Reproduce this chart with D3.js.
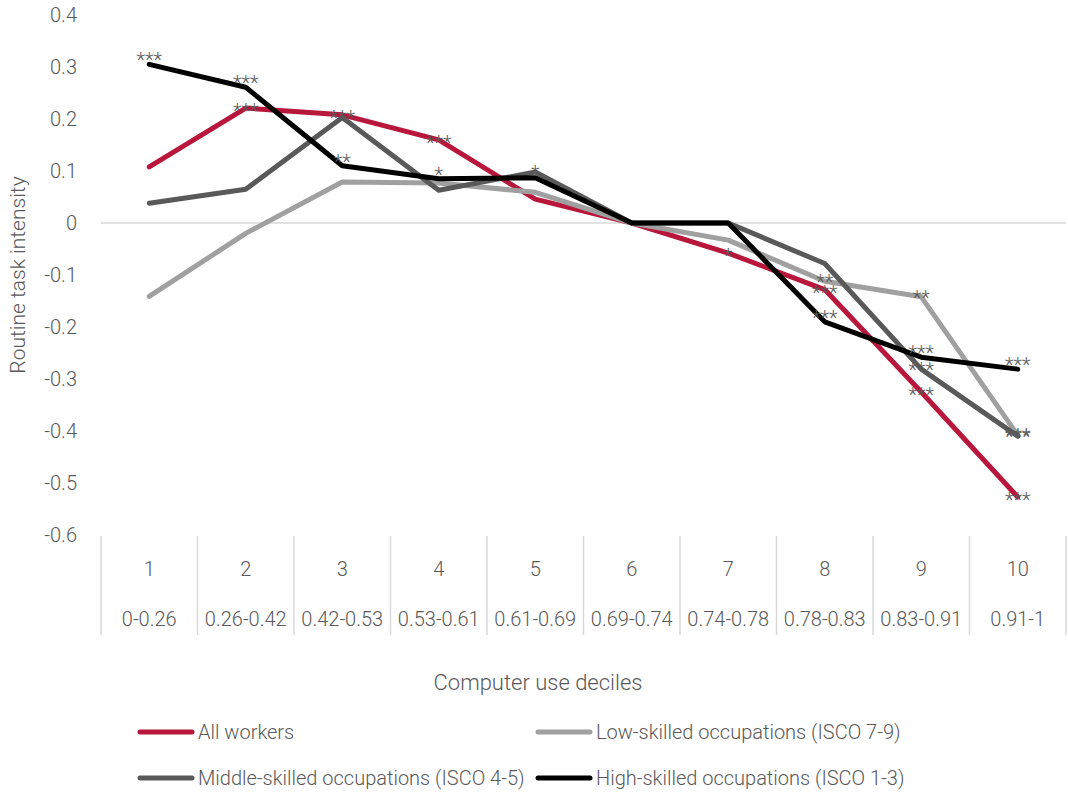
<!DOCTYPE html>
<html>
<head>
<meta charset="utf-8">
<script src="https://cdn.jsdelivr.net/npm/d3@7"></script>
<style>
  body { margin: 0; background: #fff; }
  text { font-family: Roboto, "Noto Sans", sans-serif; font-weight: 300; fill: #595959; }
</style>
</head>
<body>
<div id="chart"></div>
<script>
// data
var deciles = ["1", "2", "3", "4", "5", "6", "7", "8", "9", "10"];
var ranges = ["0-0.26", "0.26-0.42", "0.42-0.53", "0.53-0.61", "0.61-0.69",
              "0.69-0.74", "0.74-0.78", "0.78-0.83", "0.83-0.91", "0.91-1"];
var yTicks = [0.4, 0.3, 0.2, 0.1, 0, -0.1, -0.2, -0.3, -0.4, -0.5, -0.6];
var yTickLabels = ["0.4", "0.3", "0.2", "0.1", "0", "-0.1", "-0.2", "-0.3", "-0.4", "-0.5", "-0.6"];

var seriesNames = ["All workers", "Low-skilled occupations (ISCO 7-9)",
                   "Middle-skilled occupations (ISCO 4-5)", "High-skilled occupations (ISCO 1-3)"];
var allWorkers = [0.108, 0.221, 0.208, 0.160, 0.046, 0, -0.058, -0.128, -0.325, -0.527];
var lowSkilled = [-0.141, -0.020, 0.079, 0.077, 0.059, 0, -0.033, -0.112, -0.142, -0.408];
var midSkilled = [0.038, 0.065, 0.203, 0.063, 0.098, 0, 0, -0.078, -0.281, -0.410];
var highSkilled = [0.305, 0.261, 0.110, 0.085, 0.087, 0, 0, -0.190, -0.258, -0.281];

// significance stars per point
var allStars = ["", "***", "", "***", "", "", "*", "***", "***", "***"];
var lowStars = ["", "", "", "", "", "", "", "**", "**", "***"];
var midStars = ["", "", "***", "", "*", "", "", "", "***", "***"];
var highStars = ["***", "***", "**", "*", "", "", "", "***", "***", "***"];

var colors = ["#b8173b", "#a0a0a0", "#595959", "#000000"];
var starLift = [1, 3, 3, 8];

var width = 1068, height = 794;

var svg = d3.select("#chart").append("svg")
    .attr("width", width)
    .attr("height", height);

var x = d3.scaleBand().domain(deciles).range([101, 1066]);
var y = d3.scaleLinear().domain([-0.6, 0.4]).range([535, 15]);
var cx = function (d) { return x(d) + x.bandwidth() / 2; };

// y axis labels
var yAxis = d3.axisLeft(y)
    .tickValues(yTicks)
    .tickSize(0)
    .tickPadding(24)
    .tickFormat(function (d, i) { return yTickLabels[i]; });

var yg = svg.append("g")
    .attr("transform", "translate(101,0)")
    .call(yAxis);
yg.select(".domain").remove();
yg.selectAll("text")
    .style("font-size", "20px")
    .style("font-family", "Roboto")
    .attr("fill", "#595959");

// zero line
svg.append("line")
    .attr("x1", 101).attr("x2", 1066)
    .attr("y1", y(0)).attr("y2", y(0))
    .style("stroke", "#d9d9d9")
    .style("stroke-width", 1.5);

// category separators
var bounds = deciles.map(function (d) { return x(d); }).concat([x.range()[1]]);
svg.append("g").selectAll("line")
    .data(bounds)
    .enter().append("line")
    .attr("x1", function (d) { return d; })
    .attr("x2", function (d) { return d; })
    .attr("y1", 536)
    .attr("y2", 635)
    .style("stroke", "#d9d9d9")
    .style("stroke-width", 1.5);

// decile numbers and ranges
svg.append("g").selectAll("text")
    .data(deciles)
    .enter().append("text")
    .attr("x", cx)
    .attr("y", 576)
    .attr("text-anchor", "middle")
    .style("font-size", "20px")
    .text(function (d) { return d; });

svg.append("g").selectAll("text")
    .data(ranges)
    .enter().append("text")
    .attr("x", function (d, i) { return cx(deciles[i]); })
    .attr("y", 626)
    .attr("text-anchor", "middle")
    .style("font-size", "20px")
    .text(function (d) { return d; });

// axis titles
svg.append("text")
    .attr("x", 538)
    .attr("y", 690)
    .attr("text-anchor", "middle")
    .style("font-size", "22px")
    .text("Computer use deciles");

svg.append("text")
    .attr("transform", "translate(25,275) rotate(-90)")
    .attr("text-anchor", "middle")
    .style("font-size", "21px")
    .text("Routine task intensity");

// lines
var seriesValues = [allWorkers, lowSkilled, midSkilled, highSkilled];
var seriesStars = [allStars, lowStars, midStars, highStars];

var line = d3.line()
    .x(function (d, i) { return cx(deciles[i]); })
    .y(function (d) { return y(d); });

svg.append("g").selectAll("path")
    .data(seriesValues)
    .enter().append("path")
    .attr("d", line)
    .style("fill", "none")
    .style("stroke", function (d, i) { return colors[i]; })
    .style("stroke-width", 5)
    .style("stroke-linejoin", "round")
    .style("stroke-linecap", "round");

// star labels
seriesValues.forEach(function (vals, s) {
    svg.append("g").selectAll("text")
        .data(vals)
        .enter().append("text")
        .attr("x", function (d, i) { return cx(deciles[i]); })
        .attr("y", function (d) { return y(d) - starLift[s] + 11; })
        .attr("text-anchor", "middle")
        .style("font-size", "20px")
        .text(function (d, i) { return seriesStars[s][i]; });
});

// legend
var legendX = [140, 538];
var legendY = [732, 778];
var legend = svg.append("g").selectAll("g")
    .data(seriesNames)
    .enter().append("g")
    .attr("transform", function (d, i) {
        return "translate(" + legendX[i % 2] + "," + legendY[Math.floor(i / 2)] + ")";
    });

legend.append("line")
    .attr("x1", 0).attr("x2", 52)
    .attr("y1", 0).attr("y2", 0)
    .style("stroke", function (d, i) { return colors[i]; })
    .style("stroke-width", 5)
    .style("stroke-linecap", "round");

legend.append("text")
    .attr("x", 58)
    .attr("y", 7)
    .style("font-size", "20px")
    .text(function (d) { return d; });
</script>
</body>
</html>
